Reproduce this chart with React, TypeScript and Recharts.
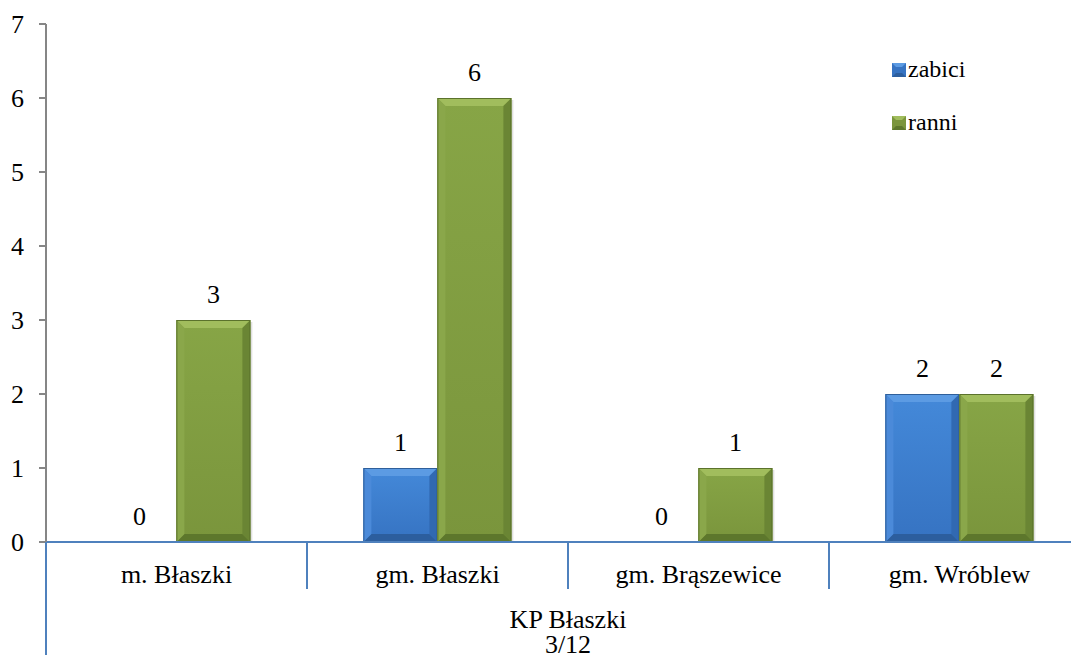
import React from 'react';
import { BarChart, Bar, XAxis, YAxis, LabelList } from 'recharts';

const categories = ['m. Błaszki', 'gm. Błaszki', 'gm. Brąszewice', 'gm. Wróblew'];
const zabici = [0, 1, 0, 2];
const ranni = [3, 6, 1, 2];
const yTicks = [0, 1, 2, 3, 4, 5, 6, 7];
const groupLines = ['KP Błaszki', '3/12'];

const seriesNames = ['zabici', 'ranni'];

const CHART_W = 1090;
const CHART_H = 663;
const Y_AXIS_W = 46;
const X_AXIS_H = 121;
const PLOT_W = CHART_W - Y_AXIS_W;
const FONT = '"Liberation Serif", "Times New Roman", serif';
const FS = 26;
const textStyle = { fontFamily: FONT, fontSize: FS, fill: '#000' };

const data = categories.map((name, i) => ({ name, zabici: zabici[i], ranni: ranni[i] }));

const palette: Record<string, { faceTop: string; face: string; top: string; bottom: string; left: string; right: string; edge: string }> = {
  zabici: { faceTop: '#4489d9', face: '#3673c2', top: '#5c9be3', bottom: '#2c5e9e', left: '#4b8ad9', right: '#3169b2', edge: '#2f5f9a' },
  ranni: { faceTop: '#87a546', face: '#7a953c', top: '#a1bd5d', bottom: '#5d772c', left: '#8aa74a', right: '#6a8534', edge: '#5b722c' },
};

const BevelBar = (props: any) => {
  const { x, y, width, height, dataKey, index } = props;
  if (!height || height <= 0) return null;
  const c = palette[dataKey];
  const b = Math.min(8, width / 4, height / 4);
  const gid = `face-${dataKey}-${index}`;
  return (
    <g>
      <defs>
        <linearGradient id={gid} x1="0" y1="0" x2="0" y2="1">
          <stop offset="0%" stopColor={c.faceTop} />
          <stop offset="100%" stopColor={c.face} />
        </linearGradient>
      </defs>
      <rect x={x + 2} y={y + 2} width={width} height={height - 2} fill="#000" opacity={0.12} />
      <rect x={x} y={y} width={width} height={height} fill={`url(#${gid})`} />
      <polygon points={`${x},${y} ${x + width},${y} ${x + width - b},${y + b} ${x + b},${y + b}`} fill={c.top} />
      <polygon points={`${x},${y + height} ${x + width},${y + height} ${x + width - b},${y + height - b} ${x + b},${y + height - b}`} fill={c.bottom} />
      <polygon points={`${x},${y} ${x + b},${y + b} ${x + b},${y + height - b} ${x},${y + height}`} fill={c.left} />
      <polygon points={`${x + width},${y} ${x + width - b},${y + b} ${x + width - b},${y + height - b} ${x + width},${y + height}`} fill={c.right} />
      <rect x={x + 0.5} y={y + 0.5} width={width - 1} height={height - 1} fill="none" stroke={c.edge} strokeWidth={1} />
    </g>
  );
};

const CategoryTick = (props: any) => {
  const { x, y, payload, index } = props;
  const band = PLOT_W / categories.length;
  const left = x - band / 2;
  const cx = Y_AXIS_W + PLOT_W / 2;
  return (
    <g>
      <line x1={left} y1={y} x2={left} y2={y + 47} stroke="#4f81bd" strokeWidth={2} />
      <text x={x} y={y + 41} textAnchor="middle" style={textStyle}>
        {payload.value}
      </text>
      {index === 0 && (
        <g>
          <line x1={left} y1={y} x2={left} y2={CHART_H} stroke="#4f81bd" strokeWidth={2} />
          <text x={cx} y={y + 86} textAnchor="middle" style={textStyle}>
            {groupLines.map((line, i) => (
              <tspan key={line} x={cx} dy={i === 0 ? 0 : 25}>
                {line}
              </tspan>
            ))}
          </text>
        </g>
      )}
    </g>
  );
};

const ChartLegend = () => (
  <svg width={180} height={100} style={{ position: 'absolute', left: 885, top: 50 }}>
    {seriesNames.map((name, i) => {
      const c = palette[name];
      const top = 13 + i * 53;
      return (
        <g key={name}>
          <rect x={7} y={top} width={14} height={14} fill={c.face} />
          <polygon points={`7,${top} 21,${top} 17,${top + 4} 11,${top + 4}`} fill={c.top} />
          <polygon points={`7,${top + 14} 21,${top + 14} 17,${top + 10} 11,${top + 10}`} fill={c.bottom} />
          <text x={23} y={top + 14} style={{ ...textStyle, fontSize: 24 }}>
            {name}
          </text>
        </g>
      );
    })}
  </svg>
);

export default function App() {
  return (
    <div style={{ position: 'relative', margin: -8, width: 1079, height: 663, overflow: 'hidden', background: '#fff', fontFamily: FONT }}>
      <BarChart
        width={CHART_W}
        height={CHART_H}
        data={data}
        margin={{ top: 24, right: 0, left: 0, bottom: 0 }}
        barCategoryGap="21.6%"
        barGap={0}
      >
        <XAxis
          dataKey="name"
          height={X_AXIS_H}
          axisLine={{ stroke: '#4f81bd', strokeWidth: 2 }}
          tickLine={false}
          tickSize={0}
          tickMargin={0}
          tick={<CategoryTick />}
          interval={0}
        />
        <YAxis
          width={Y_AXIS_W}
          domain={[0, 7]}
          ticks={yTicks}
          interval={0}
          axisLine={{ stroke: '#868686', strokeWidth: 2 }}
          tickLine={{ stroke: '#868686', strokeWidth: 2 }}
          tickSize={7}
          tickMargin={15}
          tick={textStyle}
        />
        {seriesNames.map((name) => (
          <Bar key={name} dataKey={name} shape={<BevelBar dataKey={name} />} isAnimationActive={false}>
            <LabelList dataKey={name} position="top" offset={17} style={textStyle} />
          </Bar>
        ))}
      </BarChart>
      <ChartLegend />
    </div>
  );
}
